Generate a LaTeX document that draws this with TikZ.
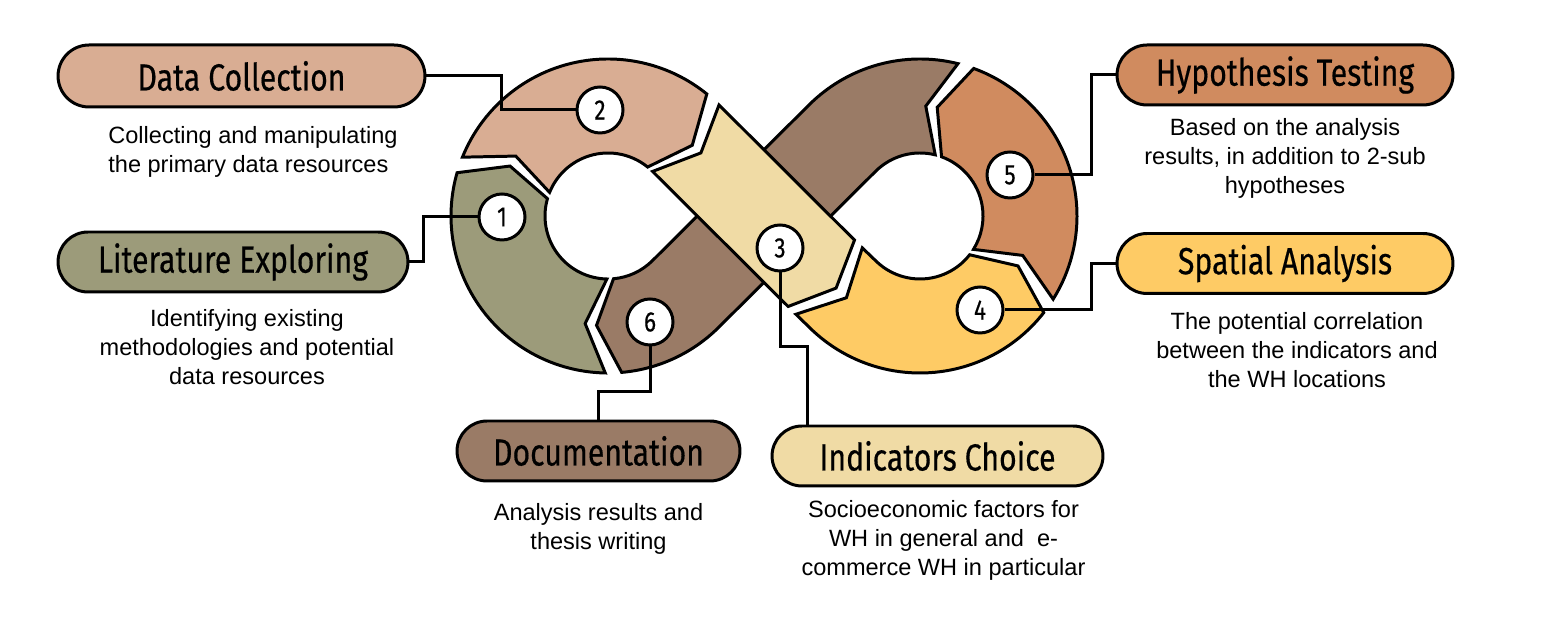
\documentclass[tikz,border=0pt]{standalone}
\usepackage{fontspec}
\setmainfont{Liberation Sans}
\newfontfamily\titlefont[FakeBold=0.5]{Fira Sans}
\usetikzlibrary{positioning,shapes.misc}

\definecolor{litgreen}{HTML}{9C9B7A}
\definecolor{datapink}{HTML}{D9AD93}
\definecolor{indbeige}{HTML}{F0DBA5}
\definecolor{spatyellow}{HTML}{FECB65}
\definecolor{hyporange}{HTML}{D08B5F}
\definecolor{docbrown}{HTML}{9A7B66}

\newcommand{\ttl}[1]{\scalebox{0.8}[1]{#1}}

\tikzset{
	seg/.style={draw=black, line width=1.7pt},
	pill/.style={rounded rectangle, draw=black, line width=1.7pt, minimum height=1.2cm, inner sep=0pt, font=\fontsize{21.5}{24}\selectfont\titlefont},
	desc/.style={align=center, inner sep=0pt, font=\fontsize{13.4}{16.5}\selectfont},
	num/.style={circle, draw=black, fill=white, line width=1.7pt, minimum size=0.92cm, inner sep=0pt, font=\fontsize{16}{16}\selectfont\titlefont},
	conn/.style={draw=black, line width=1.7pt}
}

\begin{document}
\begin{tikzpicture}[x=0.02cm, y=0.02cm]
	\useasboundingbox (0,0) rectangle (1547,631);

	% centres of the two loops
	\coordinate (L) at (608,415);
	\coordinate (R) at (920,415);

	% step 1, left side of the left loop
	\filldraw[seg, fill=litgreen] ([shift={(269:157)}]L) arc[start angle=269, end angle=164, radius=157]
		-- ([shift={(153:110)}]L) -- ([shift={(164:63)}]L) arc[start angle=164, end angle=269, radius=63]
		-- ([shift={(258:110)}]L) -- cycle;

	% step 2, top of the left loop
	\filldraw[seg, fill=datapink] ([shift={(158:157)}]L) arc[start angle=158, end angle=51, radius=157]
		-- ([shift={(40:110)}]L) -- ([shift={(51:63)}]L) arc[start angle=51, end angle=158, radius=63]
		-- ([shift={(147:110)}]L) -- cycle;

	% step 4, bottom of the right loop
	\filldraw[seg, fill=spatyellow] (795.9,316.7) -- ([shift={(225:157)}]R) arc[start angle=225, end angle=322, radius=157]
		-- ([shift={(333:110)}]R) -- ([shift={(322:63)}]R) arc[start angle=322, end angle=225, radius=63]
		-- (862.3,383.1) -- ([shift={(228:110)}]R) -- cycle;

	% step 5, right side of the right loop
	\filldraw[seg, fill=hyporange] ([shift={(328:157)}]R) arc[start angle=328, end angle=430, radius=157]
		-- ([shift={(441:110)}]R) -- ([shift={(430:63)}]R) arc[start angle=430, end angle=328, radius=63]
		-- ([shift={(339:110)}]R) -- cycle;

	% step 6, over the top of the right loop and across to the left one
	\filldraw[seg, fill=docbrown] ([shift={(76:157)}]R) arc[start angle=76, end angle=135, radius=157]
		-- ([shift={(-45:63)}]L) arc[start angle=-45, end angle=-85, radius=63]
		-- ([shift={(-96:110)}]L) -- ([shift={(-85:157)}]L) arc[start angle=-85, end angle=-45, radius=157]
		-- ([shift={(135:63)}]R) arc[start angle=135, end angle=76, radius=63]
		-- ([shift={(87:110)}]R) -- cycle;

	% step 3, the band on top at the crossing
	\filldraw[seg, fill=indbeige] ([shift={(45:157)}]L) -- (854.5,390.9) -- (836.1,342.9) -- (788.1,324.5)
		-- ([shift={(45:63)}]L) -- (700.9,478.1) -- cycle;

	% numbers
	\node[num] (n1) at (502,414) {\ttl{1}};
	\node[num] (n2) at (600,521) {\ttl{2}};
	\node[num] (n3) at (780,383) {\ttl{3}};
	\node[num] (n4) at (980,321) {\ttl{4}};
	\node[num] (n5) at (1010,456) {\ttl{5}};
	\node[num] (n6) at (650,309) {\ttl{6}};

	% titles
	\node[pill, fill=datapink, minimum width=7.34cm, minimum height=1.24cm] (dc) at (241.5,555) {\ttl{Data Collection}};
	\node[pill, fill=litgreen, minimum width=7cm] (le) at (233,369) {\ttl{Literature Exploring}};
	\node[pill, fill=docbrown, minimum width=5.66cm] (doc) at (598.5,180) {\ttl{Documentation}};
	\node[pill, fill=indbeige, minimum width=6.62cm] (ic) at (937.5,175) {\ttl{Indicators Choice}};
	\node[pill, fill=spatyellow, minimum width=6.72cm] (sa) at (1285,367.5) {\ttl{Spatial Analysis}};
	\node[pill, fill=hyporange, minimum width=6.72cm] (ht) at (1285,556) {\ttl{Hypothesis Testing}};

	% descriptions
	\node[desc, align=left, below=0.36cm of dc, xshift=0.23cm] (dcd) {Collecting and manipulating\\the primary data resources};
	\node[desc, below=0.32cm of le, xshift=0.28cm] (led) {Identifying existing\\methodologies and potential\\data resources};
	\node[desc, below=0.42cm of doc] (docd) {Analysis results and\\thesis writing};
	\node[desc, below=0.25cm of ic, xshift=0.12cm] (icd) {Socioeconomic factors for\\WH in general and\ \ e-\\commerce WH in particular};
	\node[desc, below=0.34cm of sa, xshift=0.24cm] (sad) {The potential correlation\\between the indicators and\\the WH locations};
	\node[desc, below=0.24cm of ht] (htd) {Based on the analysis\\results, in addition to 2-sub\\hypotheses};

	% leaders from the titles to the numbers
	\coordinate (icin) at (807,204);
	\draw[conn] (dc.east) -- ++(75,0) |- (n2);
	\draw[conn] (le.east) -- ++(14,0) |- (n1);
	\draw[conn] (doc.north) -- ++(0,28) -| (n6);
	\draw[conn] (n3) |- ++(27,-99) -- (icin);
	\draw[conn] (sa.west) -- ++(-24,0) |- (n4);
	\draw[conn] (ht.west) -- ++(-24,0) |- (n5);

\end{tikzpicture}
\end{document}
